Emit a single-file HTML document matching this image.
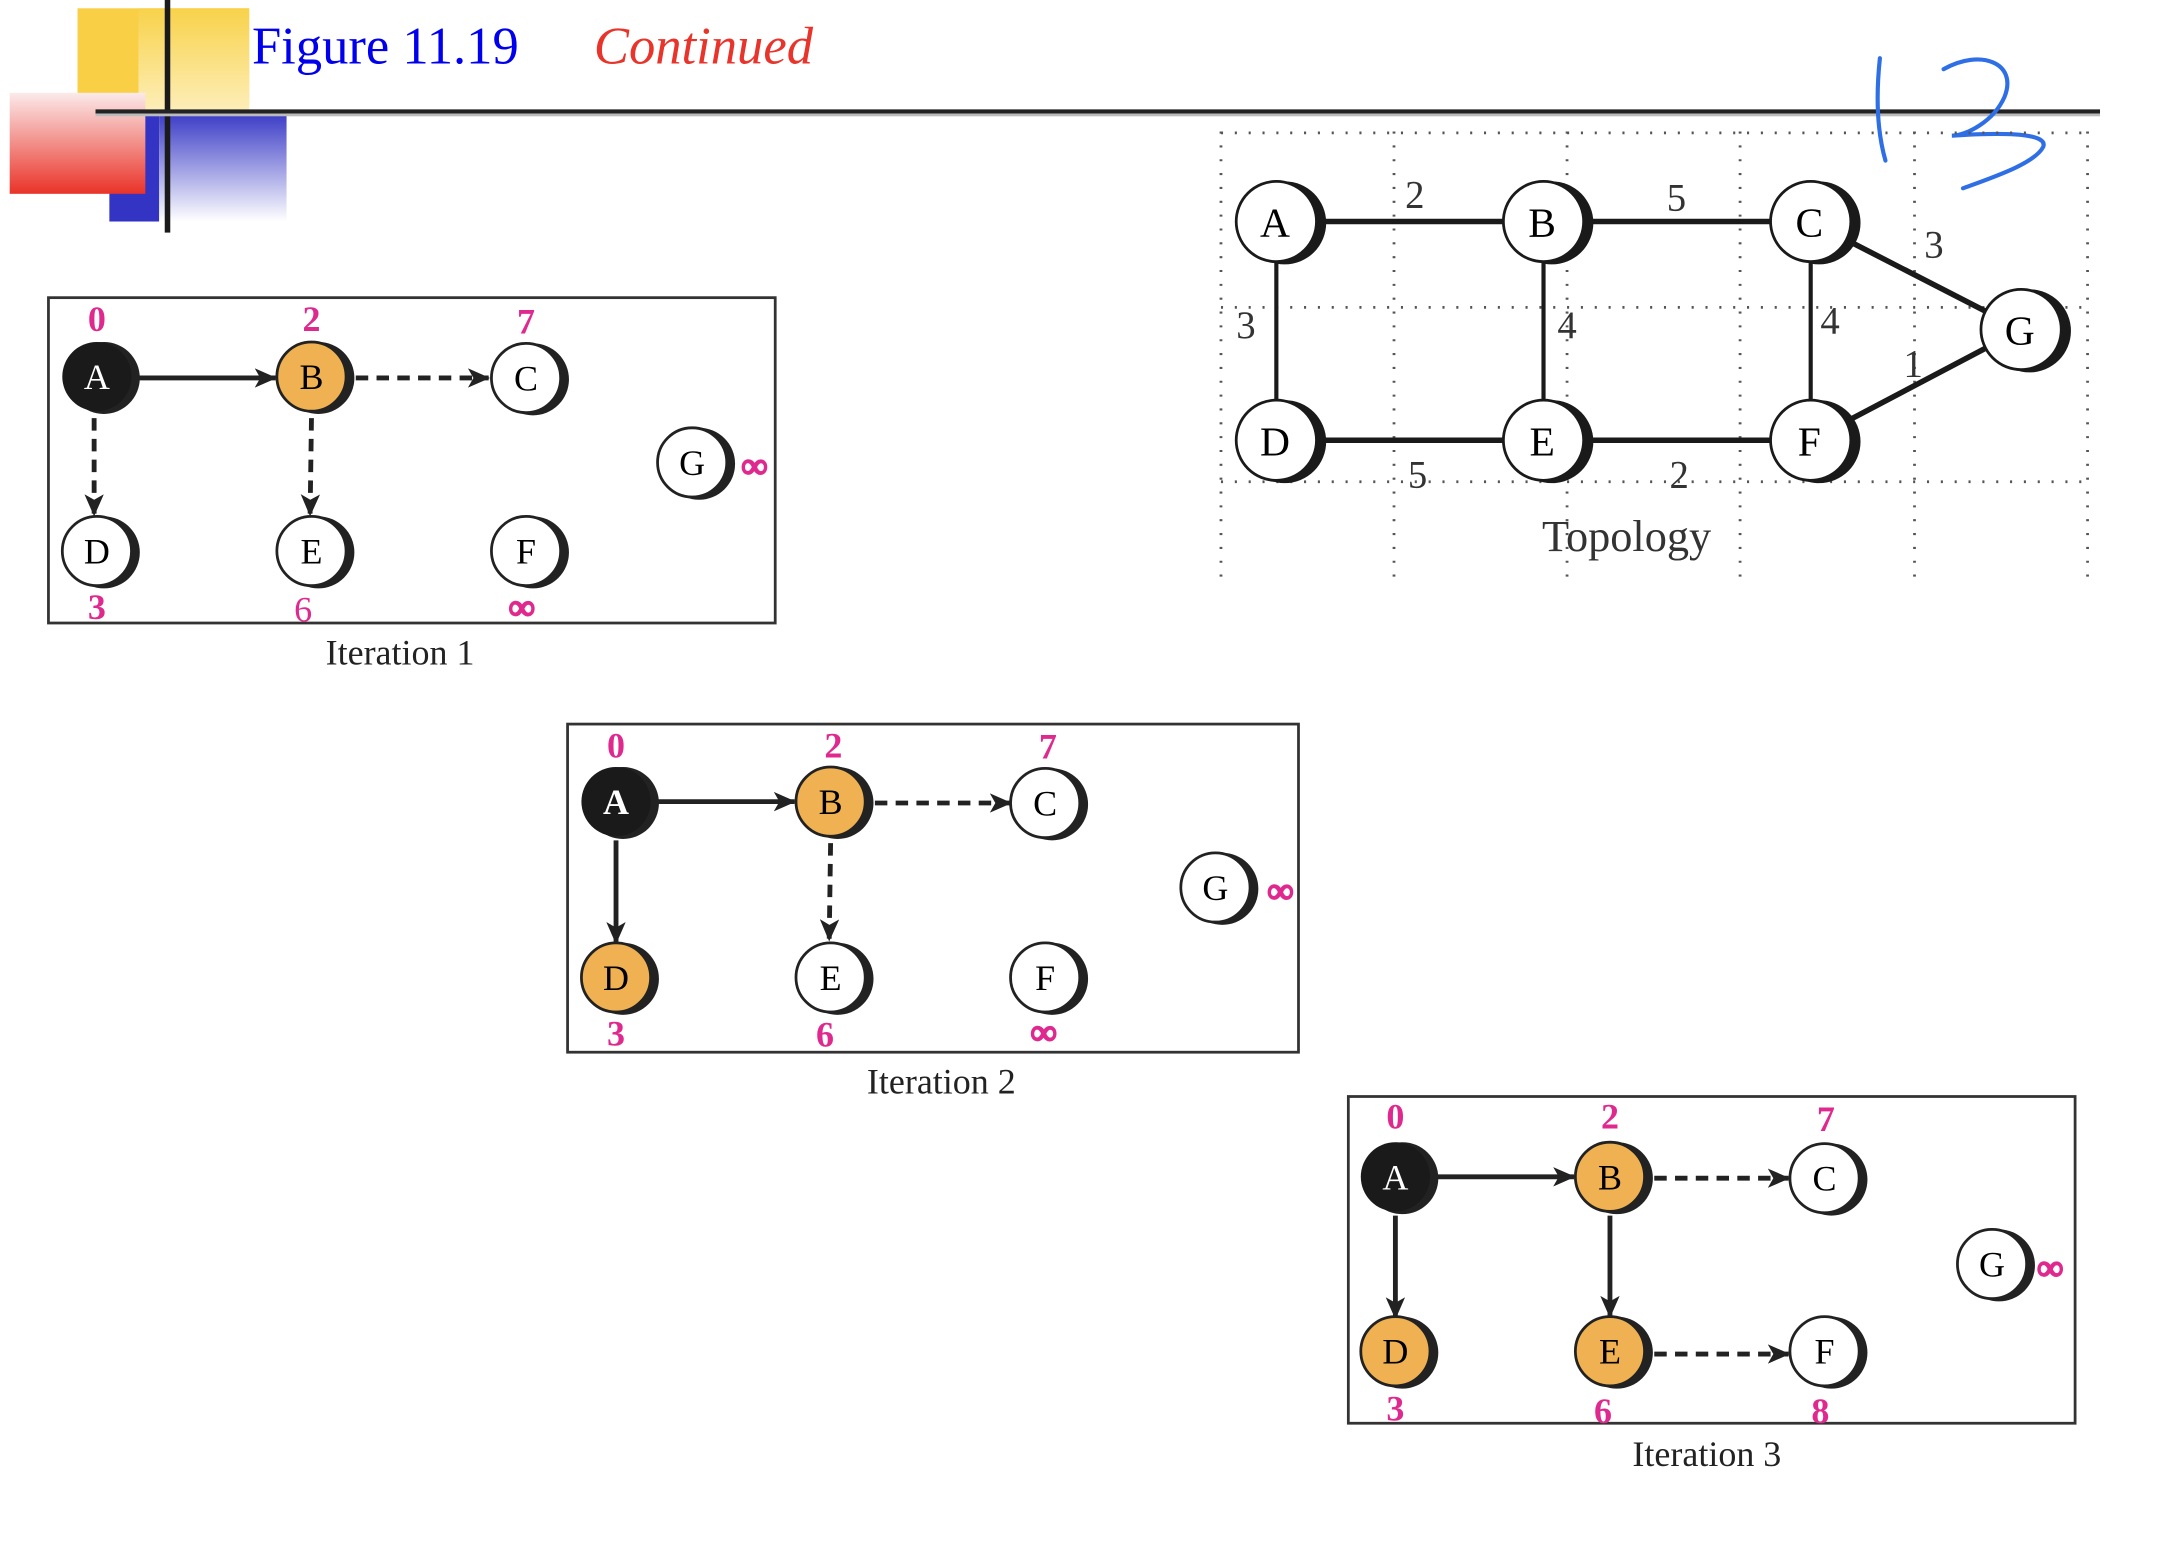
<!DOCTYPE html>
<html><head><meta charset="utf-8"><style>html,body{margin:0;padding:0;background:#fff}svg{display:block}</style></head>
<body>
<svg width="2172" height="1552" viewBox="0 0 1569 1121" preserveAspectRatio="none" xmlns="http://www.w3.org/2000/svg" font-family="'Liberation Serif',serif">
<defs>
<linearGradient id="gy" x1="0" y1="0" x2="0" y2="1"><stop offset="0" stop-color="#f8d24a"/><stop offset="1" stop-color="#fff8e0"/></linearGradient>
<linearGradient id="gr" x1="0" y1="0" x2="0" y2="1"><stop offset="0" stop-color="#fbeaea"/><stop offset="1" stop-color="#e93328"/></linearGradient>
<linearGradient id="gb" x1="0" y1="0" x2="0" y2="1"><stop offset="0" stop-color="#3b3cc6"/><stop offset="1" stop-color="#ffffff"/></linearGradient>
<marker id="ar" viewBox="0 0 16 14" refX="15" refY="7" markerWidth="16" markerHeight="14" markerUnits="userSpaceOnUse" orient="auto"><path d="M0,0 L16,7 L0,14 L4,7 Z" fill="#222"/></marker>
</defs>
<!-- header -->
<rect x="56" y="6" width="124" height="70" fill="#f8cf45"/>
<rect x="100" y="6" width="80" height="100" fill="url(#gy)"/>
<rect x="79" y="82" width="36" height="78" fill="#3333c4"/>
<rect x="115" y="82" width="92" height="78" fill="url(#gb)"/>
<rect x="7" y="67" width="98" height="73" fill="url(#gr)"/>
<rect x="119" y="0" width="4" height="168" fill="#1a1a1a"/>
<rect x="69" y="79" width="1448" height="3" fill="#222"/>
<rect x="69" y="82" width="1448" height="2" fill="#bbb"/>
<text x="182" y="46" font-size="38" fill="#0000ee">Figure 11.19</text>
<text x="429" y="46" font-size="38" fill="#e8342a" font-style="italic">Continued</text>
<!-- handwritten 13 -->
<path d="M1358,42 C1355,70 1356,95 1362,116" fill="none" stroke="#2f6fe6" stroke-width="3" stroke-linecap="round"/>
<path d="M1404,50 C1430,35 1458,45 1448,70 C1440,88 1420,98 1410,98 C1440,96 1480,95 1476,106 C1470,118 1440,128 1418,136" fill="none" stroke="#2f6fe6" stroke-width="3" stroke-linecap="round"/>
<!-- topology grid -->
<g stroke="#555" stroke-width="2" stroke-dasharray="1.5 8.5" fill="none">
<path d="M882,95V418M1007,95V418M1132,95V418M1257,95V418M1383,95V418M1508,95V418"/>
<path d="M882,96H1508M882,222H1508M882,348H1508"/>
</g>
<g stroke="#1a1a1a" stroke-width="4" fill="none">
<path d="M922,160H1115M1115,160H1308M922,318H1115M1115,318H1308"/>
<path d="M922,160V318M1115,160V318M1308,160V318" stroke-width="3"/>
<path d="M1308,160L1460,238M1308,318L1460,238"/>
</g>
<g font-size="30" text-anchor="middle">
<g><circle cx="928" cy="161" r="30" fill="#1a1a1a"/><circle cx="922" cy="160" r="29" fill="#fff" stroke="#1a1a1a" stroke-width="2"/><text x="921" y="171">A</text></g>
<g><circle cx="1121" cy="161" r="30" fill="#1a1a1a"/><circle cx="1115" cy="160" r="29" fill="#fff" stroke="#1a1a1a" stroke-width="2"/><text x="1114" y="171">B</text></g>
<g><circle cx="1314" cy="161" r="30" fill="#1a1a1a"/><circle cx="1308" cy="160" r="29" fill="#fff" stroke="#1a1a1a" stroke-width="2"/><text x="1307" y="171">C</text></g>
<g><circle cx="1466" cy="239" r="30" fill="#1a1a1a"/><circle cx="1460" cy="238" r="29" fill="#fff" stroke="#1a1a1a" stroke-width="2"/><text x="1459" y="249">G</text></g>
<g><circle cx="928" cy="319" r="30" fill="#1a1a1a"/><circle cx="922" cy="318" r="29" fill="#fff" stroke="#1a1a1a" stroke-width="2"/><text x="921" y="329">D</text></g>
<g><circle cx="1121" cy="319" r="30" fill="#1a1a1a"/><circle cx="1115" cy="318" r="29" fill="#fff" stroke="#1a1a1a" stroke-width="2"/><text x="1114" y="329">E</text></g>
<g><circle cx="1314" cy="319" r="30" fill="#1a1a1a"/><circle cx="1308" cy="318" r="29" fill="#fff" stroke="#1a1a1a" stroke-width="2"/><text x="1307" y="329">F</text></g>
</g>
<g font-size="28" fill="#333" text-anchor="middle">
<text x="1022" y="150">2</text><text x="1211" y="152">5</text><text x="1397" y="186">3</text>
<text x="900" y="244">3</text><text x="1132" y="244">4</text><text x="1322" y="241">4</text><text x="1382" y="272">1</text>
<text x="1024" y="352">5</text><text x="1213" y="352">2</text>
</g>
<text x="1175" y="398" font-size="32" fill="#333" text-anchor="middle">Topology</text>

<!-- Iteration 1 -->
<g>
<rect x="35" y="215" width="525" height="235" fill="none" stroke="#333" stroke-width="2"/>
<g stroke="#222" stroke-width="3.5" fill="none">
<path d="M96,273H199" marker-end="url(#ar)"/>
<path d="M257,273H353" stroke-dasharray="9 6" marker-end="url(#ar)"/>
<path d="M68,302V372" stroke-dasharray="9 6" marker-end="url(#ar)"/>
<path d="M225,302L224,372" stroke-dasharray="9 6" marker-end="url(#ar)"/>
</g>
<g font-size="26" text-anchor="middle">
<circle cx="75" cy="273" r="26" fill="#222"/><circle cx="70" cy="272" r="25" fill="#1a1a1a"/><text x="70" y="281" fill="#fff">A</text>
<circle cx="230" cy="273" r="26" fill="#222"/><circle cx="225" cy="272" r="25" fill="#efb152" stroke="#222" stroke-width="2"/><text x="225" y="281">B</text>
<circle cx="385" cy="274" r="26" fill="#222"/><circle cx="380" cy="273" r="25" fill="#fff" stroke="#222" stroke-width="2"/><text x="380" y="282">C</text>
<circle cx="505" cy="335" r="26" fill="#222"/><circle cx="500" cy="334" r="25" fill="#fff" stroke="#222" stroke-width="2"/><text x="500" y="343">G</text>
<circle cx="75" cy="399" r="26" fill="#222"/><circle cx="70" cy="398" r="25" fill="#fff" stroke="#222" stroke-width="2"/><text x="70" y="407">D</text>
<circle cx="230" cy="399" r="26" fill="#222"/><circle cx="225" cy="398" r="25" fill="#fff" stroke="#222" stroke-width="2"/><text x="225" y="407">E</text>
<circle cx="385" cy="399" r="26" fill="#222"/><circle cx="380" cy="398" r="25" fill="#fff" stroke="#222" stroke-width="2"/><text x="380" y="407">F</text>
</g>
<g font-size="26" fill="#e0298e" font-weight="bold" text-anchor="middle">
<text x="70" y="239">0</text><text x="225" y="239">2</text><text x="380" y="241">7</text>
<text x="70" y="447">3</text><text x="219" y="449" font-weight="normal">6</text><text x="377" y="447" stroke="#e0298e" stroke-width="1.5">∞</text><text x="545" y="345" stroke="#e0298e" stroke-width="1.5">∞</text>
</g>
<text x="289" y="480" font-size="26" fill="#222" text-anchor="middle">Iteration 1</text>
</g>

<!-- Iteration 2 -->
<g transform="translate(375,307)">
<rect x="35" y="216" width="528" height="237" fill="none" stroke="#333" stroke-width="2"/>
<g stroke="#222" stroke-width="3.5" fill="none">
<path d="M96,272H199" marker-end="url(#ar)"/>
<path d="M257,273H355" stroke-dasharray="9 6" marker-end="url(#ar)"/>
<path d="M70,300V374" marker-end="url(#ar)"/>
<path d="M225,302L224,372" stroke-dasharray="9 6" marker-end="url(#ar)"/>
</g>
<g font-size="26" text-anchor="middle">
<circle cx="75" cy="273" r="26" fill="#222"/><circle cx="70" cy="272" r="25" fill="#1a1a1a"/><text x="70" y="281" fill="#fff" font-weight="bold">A</text>
<circle cx="230" cy="273" r="26" fill="#222"/><circle cx="225" cy="272" r="25" fill="#efb152" stroke="#222" stroke-width="2"/><text x="225" y="281">B</text>
<circle cx="385" cy="274" r="26" fill="#222"/><circle cx="380" cy="273" r="25" fill="#fff" stroke="#222" stroke-width="2"/><text x="380" y="282">C</text>
<circle cx="508" cy="335" r="26" fill="#222"/><circle cx="503" cy="334" r="25" fill="#fff" stroke="#222" stroke-width="2"/><text x="503" y="343">G</text>
<circle cx="75" cy="400" r="26" fill="#222"/><circle cx="70" cy="399" r="25" fill="#efb152" stroke="#222" stroke-width="2"/><text x="70" y="408">D</text>
<circle cx="230" cy="400" r="26" fill="#222"/><circle cx="225" cy="399" r="25" fill="#fff" stroke="#222" stroke-width="2"/><text x="225" y="408">E</text>
<circle cx="385" cy="400" r="26" fill="#222"/><circle cx="380" cy="399" r="25" fill="#fff" stroke="#222" stroke-width="2"/><text x="380" y="408">F</text>
</g>
<g font-size="26" fill="#e0298e" font-weight="bold" text-anchor="middle">
<text x="70" y="240">0</text><text x="227" y="240">2</text><text x="382" y="241">7</text>
<text x="70" y="448">3</text><text x="221" y="449">6</text><text x="379" y="447" stroke="#e0298e" stroke-width="1.5">∞</text><text x="550" y="345" stroke="#e0298e" stroke-width="1.5">∞</text>
</g>
<text x="305" y="483" font-size="26" fill="#222" text-anchor="middle">Iteration 2</text>
</g>

<!-- Iteration 3 -->
<g transform="translate(938,578)">
<rect x="36" y="214" width="525" height="236" fill="none" stroke="#333" stroke-width="2"/>
<g stroke="#222" stroke-width="3.5" fill="none">
<path d="M96,272H199" marker-end="url(#ar)"/>
<path d="M257,273H354" stroke-dasharray="9 6" marker-end="url(#ar)"/>
<path d="M70,300V374" marker-end="url(#ar)"/>
<path d="M225,300V373" marker-end="url(#ar)"/>
<path d="M257,400H354" stroke-dasharray="9 6" marker-end="url(#ar)"/>
</g>
<g font-size="26" text-anchor="middle">
<circle cx="75" cy="273" r="26" fill="#222"/><circle cx="70" cy="272" r="25" fill="#1a1a1a"/><text x="70" y="281" fill="#fff">A</text>
<circle cx="230" cy="273" r="26" fill="#222"/><circle cx="225" cy="272" r="25" fill="#efb152" stroke="#222" stroke-width="2"/><text x="225" y="281">B</text>
<circle cx="385" cy="274" r="26" fill="#222"/><circle cx="380" cy="273" r="25" fill="#fff" stroke="#222" stroke-width="2"/><text x="380" y="282">C</text>
<circle cx="506" cy="336" r="26" fill="#222"/><circle cx="501" cy="335" r="25" fill="#fff" stroke="#222" stroke-width="2"/><text x="501" y="344">G</text>
<circle cx="75" cy="399" r="26" fill="#222"/><circle cx="70" cy="398" r="25" fill="#efb152" stroke="#222" stroke-width="2"/><text x="70" y="407">D</text>
<circle cx="230" cy="399" r="26" fill="#222"/><circle cx="225" cy="398" r="25" fill="#efb152" stroke="#222" stroke-width="2"/><text x="225" y="407">E</text>
<circle cx="385" cy="399" r="26" fill="#222"/><circle cx="380" cy="398" r="25" fill="#fff" stroke="#222" stroke-width="2"/><text x="380" y="407">F</text>
</g>
<g font-size="26" fill="#e0298e" font-weight="bold" text-anchor="middle">
<text x="70" y="237">0</text><text x="225" y="237">2</text><text x="381" y="239">7</text>
<text x="70" y="448">3</text><text x="220" y="450">6</text><text x="377" y="450">8</text><text x="543" y="346" stroke="#e0298e" stroke-width="1.5">∞</text>
</g>
<text x="295" y="481" font-size="26" fill="#222" text-anchor="middle">Iteration 3</text>
</g>
</svg>
</body></html>
